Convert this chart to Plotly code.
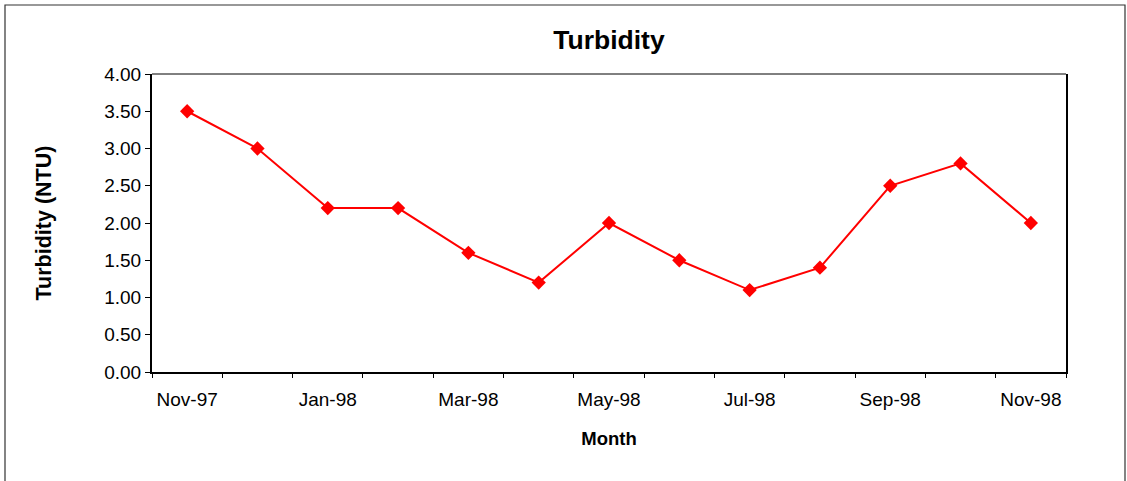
import plotly.graph_objects as go

months = ["Nov-97", "Dec-97", "Jan-98", "Feb-98", "Mar-98", "Apr-98", "May-98",
          "Jun-98", "Jul-98", "Aug-98", "Sep-98", "Oct-98", "Nov-98"]
turbidity = [3.5, 3.0, 2.2, 2.2, 1.6, 1.2, 2.0, 1.5, 1.1, 1.4, 2.5, 2.8, 2.0]
y_ticks = [0, 0.5, 1.0, 1.5, 2.0, 2.5, 3.0, 3.5, 4.0]

idx = list(range(len(months)))
FONT = "Liberation Sans, Arial, sans-serif"

W, H = 1127, 481
L, R, T, B = 152, 61, 74, 109
ph = H - T - B
pw = W - L - R

fig = go.Figure()
fig.add_trace(go.Scatter(
    x=idx, y=turbidity, mode="lines+markers",
    line=dict(color="#ff0000", width=2),
    marker=dict(symbol="diamond", size=11, color="#ff0000"),
    showlegend=False,
))

fig.update_layout(
    width=W, height=H,
    margin=dict(l=L, r=R, t=T, b=B, pad=0),
    paper_bgcolor="white", plot_bgcolor="white",
    font=dict(family=FONT, color="black", size=18),
    title=dict(text="<b>Turbidity</b>", x=(L + pw / 2) / W, xanchor="center",
               y=1 - 40 / H, yanchor="middle", yref="container",
               font=dict(size=26.5, family=FONT, color="black")),
    xaxis=dict(
        range=[-0.5, len(months) - 0.5],
        tickmode="array", tickvals=idx[::2], ticktext=months[::2],
        ticks="", showgrid=False, zeroline=False,
        showline=True, linecolor="black", linewidth=2,
        tickfont=dict(size=19), ticklabelstandoff=9,
        minor=dict(tickmode="linear", tick0=-0.5, dtick=1, ticks="outside",
                   ticklen=4, tickcolor="black", tickwidth=1, showgrid=False),
        title=dict(text="<b>Month</b>", font=dict(size=18.5), standoff=23),
    ),
    yaxis=dict(
        range=[0, 4], tickmode="array", tickvals=y_ticks, tickformat=".2f",
        ticks="outside", ticklen=5, tickcolor="black", tickwidth=1,
        showgrid=False, zeroline=False,
        showline=True, linecolor="black", linewidth=2, mirror=True,
        tickfont=dict(size=19),
        title=dict(text="<b>Turbidity (NTU)</b>", font=dict(size=21.5), standoff=47),
    ),
)

# top border of plot area (thin)
fig.add_shape(type="line", xref="paper", yref="paper", x0=0, x1=1, y0=1, y1=1,
              line=dict(color="black", width=1))
# outer chart border
fig.add_shape(type="rect", xref="paper", yref="paper",
              x0=(5 - L) / pw, x1=(1125 - L) / pw,
              y0=(H - B - 490) / ph, y1=(H - B - 5) / ph,
              line=dict(color="#333333", width=1.2), layer="below")

fig.write_html("out.html", config={"displayModeBar": False},
               post_script="document.body.style.margin='0';document.body.style.overflow='hidden';")
